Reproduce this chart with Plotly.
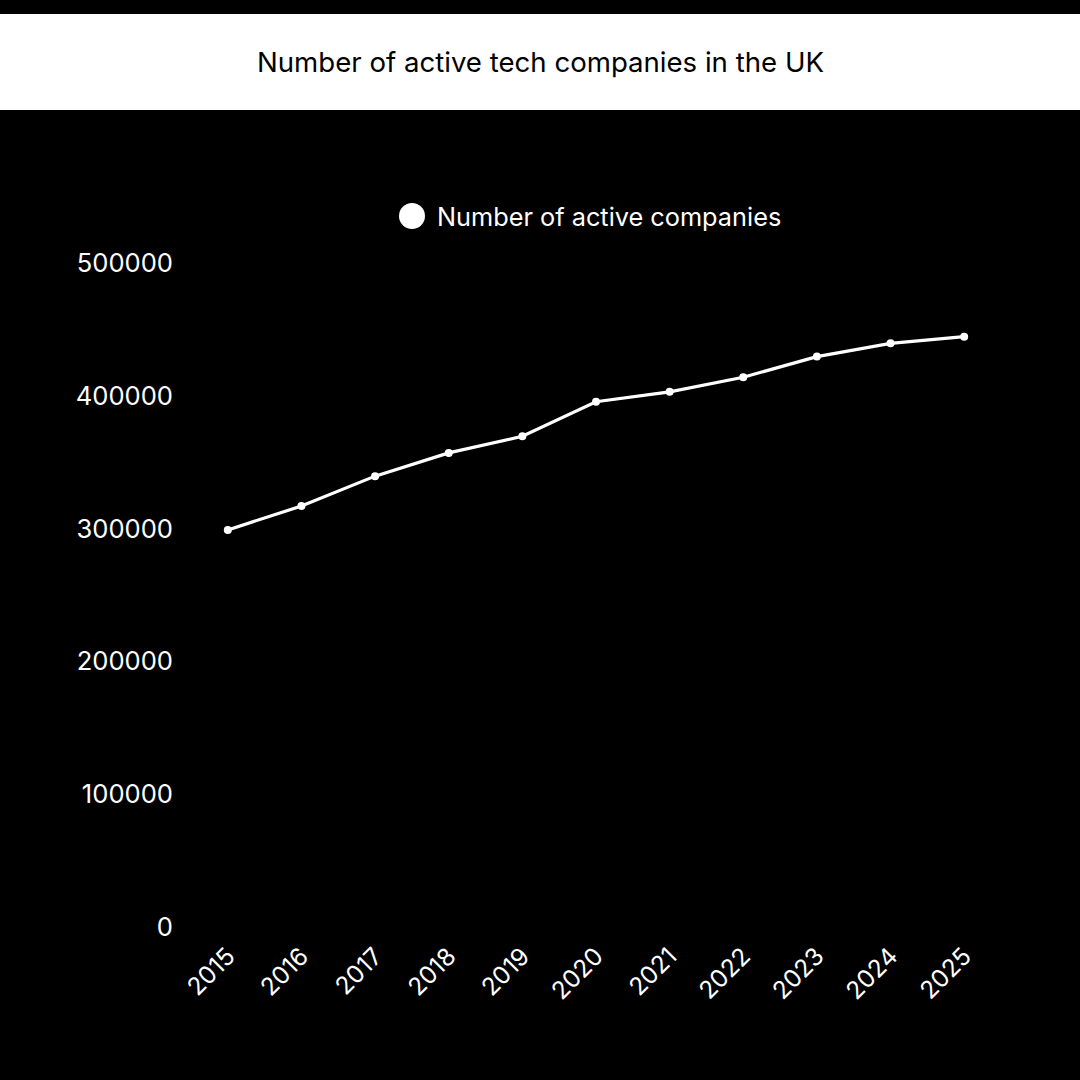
import plotly.graph_objects as go

# ----------------------------
# Data
# ----------------------------
years = [2015, 2016, 2017, 2018, 2019, 2020, 2021, 2022, 2023, 2024, 2025]
active_companies = [299000, 317000, 339500, 357000, 369500, 395500, 403000, 414000, 429500, 439500, 444500]
y_ticks = [0, 100000, 200000, 300000, 400000, 500000]

title_text = "Number of active tech companies in the UK"
series_name = "Number of active companies"

FONT = "Inter, Roboto, sans-serif"

fig = go.Figure()

fig.add_trace(go.Scatter(
    x=years, y=active_companies,
    mode="lines+markers", name=series_name,
    line=dict(color="white", width=3.2),
    marker=dict(color="white", size=8),
    showlegend=False,
))

# plot area in px: x 191..1001, y 263..927
L, R, T, B = 191, 1001, 263, 927
pw, ph = R - L, B - T


def px(x):
    return (x - L) / pw


def py(y):
    return (B - y) / ph


# white title band across the top
fig.add_shape(
    type="rect", xref="paper", yref="paper",
    x0=px(0), x1=px(1080), y0=py(110), y1=py(14),
    fillcolor="white", line_width=0, layer="below",
)
fig.add_annotation(
    text=title_text, xref="paper", yref="paper",
    x=px(540), y=py(62), xanchor="center", yanchor="middle", showarrow=False,
    font=dict(family=FONT, size=27.6, color="black"),
)

# legend: big white dot + series name
fig.add_shape(
    type="circle", xref="paper", yref="paper",
    x0=px(399), x1=px(425), y0=py(229), y1=py(203),
    fillcolor="white", line_width=0,
)
fig.add_annotation(
    text=series_name, xref="paper", yref="paper",
    x=px(435), y=py(216), xanchor="left", yanchor="middle", showarrow=False,
    font=dict(family=FONT, size=25.3, color="white"),
)

fig.update_layout(
    width=1080, height=1080,
    paper_bgcolor="black", plot_bgcolor="black",
    margin=dict(l=L, r=1080 - R, t=T, b=1080 - B),
    font=dict(family=FONT, color="white", size=25),
    xaxis=dict(
        tickmode="array", tickvals=years, ticktext=[str(y) for y in years],
        tickangle=-45, range=[2014.5, 2025.5],
        showgrid=False, zeroline=False, showline=False,
        ticklabelstandoff=9,
        tickfont=dict(size=24.5, color="white"),
    ),
    yaxis=dict(
        tickmode="array", tickvals=y_ticks, ticktext=[str(v) for v in y_ticks],
        range=[0, 500000],
        showgrid=False, zeroline=False, showline=False,
        ticklabelstandoff=17,
        tickfont=dict(size=25.6, color="white"),
    ),
)

fig.write_html(
    "out.html",
    config={"displayModeBar": False},
    post_script="document.body.style.margin='0px';document.body.style.overflow='hidden';",
)
